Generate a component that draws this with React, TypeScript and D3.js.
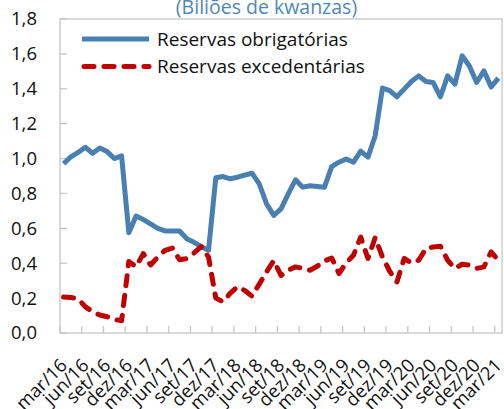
import React from "react";
import * as d3 from "d3";

const categories: string[] = [
  "mar/16","abr/16","mai/16","jun/16","jul/16","ago/16","set/16","out/16","nov/16","dez/16","jan/17","fev/17",
  "mar/17","abr/17","mai/17","jun/17","jul/17","ago/17","set/17","out/17","nov/17","dez/17","jan/18","fev/18",
  "mar/18","abr/18","mai/18","jun/18","jul/18","ago/18","set/18","out/18","nov/18","dez/18","jan/19","fev/19",
  "mar/19","abr/19","mai/19","jun/19","jul/19","ago/19","set/19","out/19","nov/19","dez/19","jan/20","fev/20",
  "mar/20","abr/20","mai/20","jun/20","jul/20","ago/20","set/20","out/20","nov/20","dez/20","jan/21","fev/21",
  "mar/21",
];

const tickLabels: string[] = [
  "mar/16","jun/16","set/16","dez/16","mar/17","jun/17","set/17","dez/17","mar/18","jun/18","set/18",
  "dez/18","mar/19","jun/19","set/19","dez/19","mar/20","jun/20","set/20","dez/20","mar/21",
];

const obrigatorias: number[] = [
  0.97, 1.01, 1.035, 1.065, 1.03, 1.06, 1.04, 1.0, 1.015, 0.575, 0.67, 0.65,
  0.625, 0.6, 0.585, 0.585, 0.585, 0.54, 0.52, 0.495, 0.475, 0.89, 0.897, 0.884,
  0.893, 0.905, 0.916, 0.855, 0.741, 0.674, 0.712, 0.798, 0.878, 0.836, 0.844, 0.84,
  0.836, 0.954, 0.979, 0.998, 0.979, 1.042, 1.008, 1.131, 1.404, 1.389, 1.354, 1.398,
  1.442, 1.474, 1.442, 1.436, 1.354, 1.474, 1.427, 1.589, 1.531, 1.436, 1.503, 1.411,
  1.461,
];

const excedentarias: number[] = [
  0.207, 0.204, 0.195, 0.15, 0.122, 0.103, 0.093, 0.078, 0.07, 0.41, 0.38, 0.455,
  0.39, 0.436, 0.474, 0.487, 0.42, 0.427, 0.459, 0.495, 0.435, 0.2, 0.179, 0.228,
  0.265, 0.244, 0.211, 0.28, 0.35, 0.415, 0.33, 0.36, 0.379, 0.37, 0.36, 0.383,
  0.413, 0.43, 0.341, 0.402, 0.446, 0.55, 0.427, 0.547, 0.436, 0.354, 0.293, 0.427,
  0.402, 0.417, 0.484, 0.493, 0.497, 0.417, 0.37, 0.394, 0.389, 0.37, 0.379, 0.465,
  0.417,
];

const yTicks: number[] = [0, 0.2, 0.4, 0.6, 0.8, 1.0, 1.2, 1.4, 1.6, 1.8];

const seriesNames: string[] = ["Reservas obrigatórias", "Reservas excedentárias"];
const title = "(Biliões de kwanzas)";

const W = 504;
const H = 409;
const FONT = "'Open Sans', 'Noto Sans', sans-serif";
const BLUE = "#4a7fb1";
const RED = "#c00000";
const GRID = "#c6c6c6";

export default function App() {
  const left = 60, right = 502, top = 19, bottom = 333;
  const x = d3.scalePoint<string>().domain(categories).range([left, right]).padding(0.5);
  const y = d3.scaleLinear().domain([0, 1.8]).range([bottom, top]);
  const step = x.step();
  const fmt = (v: number) => d3.format(".1f")(v).replace(".", ",");

  const line = d3
    .line<number>()
    .x((_, i) => x(categories[i]) as number)
    .y((v) => y(v));

  const tickBoundaries = tickLabels.map((_, k) => left + k * 3 * step);

  return (
    <svg
      width={W}
      height={H}
      style={{ position: "absolute", left: 0, top: 0, display: "block", background: "#fff" }}
      fontFamily={FONT}
    >
      <text x={266.5} y={13.5} textAnchor="middle" fontSize={19.5} fill="#4f87bb">
        {title}
      </text>
      {/* plot border */}
      <rect x={left} y={top} width={right - left} height={bottom - top} fill="none" stroke={GRID} strokeWidth={1.3} />
      {/* y ticks and labels */}
      {yTicks.map((t) => (
        <g key={t}>
          <line x1={left} x2={left + 7} y1={y(t)} y2={y(t)} stroke={GRID} strokeWidth={1.3} />
          <text x={37} y={y(t)} dy="0.35em" textAnchor="end" fontSize={18.5} fill="#111">
            {fmt(t)}
          </text>
        </g>
      ))}
      {/* x ticks */}
      {tickBoundaries.map((bx, k) => (
        <line key={k} x1={bx} x2={bx} y1={bottom} y2={bottom - 7} stroke={GRID} strokeWidth={1.3} />
      ))}
      {tickLabels.map((lab) => {
        const cx = x(lab) as number;
        const cy = bottom + 29;
        return (
          <text
            key={lab}
            x={cx}
            y={cy}
            dy="0.35em"
            textAnchor="end"
            fontSize={18.5}
            fill="#111"
            transform={`rotate(-45, ${cx}, ${cy})`}
          >
            {lab}
          </text>
        );
      })}
      {/* series */}
      <path d={line(obrigatorias) || ""} fill="none" stroke={BLUE} strokeWidth={5} strokeLinejoin="round" />
      <path
        d={line(excedentarias) || ""}
        fill="none"
        stroke={RED}
        strokeWidth={5}
        strokeLinejoin="round"
        strokeLinecap="round"
        strokeDasharray="10 10"
      />
      {/* legend */}
      <line x1={82} x2={149} y1={39} y2={39} stroke={BLUE} strokeWidth={5} />
      <text x={157} y={45.5} fontSize={19} fill="#111">
        {seriesNames[0]}
      </text>
      <line
        x1={84}
        x2={149}
        y1={66.5}
        y2={66.5}
        stroke={RED}
        strokeWidth={5}
        strokeLinecap="round"
        strokeDasharray="10 10"
      />
      <text x={157} y={72.5} fontSize={19} fill="#111">
        {seriesNames[1]}
      </text>
    </svg>
  );
}
